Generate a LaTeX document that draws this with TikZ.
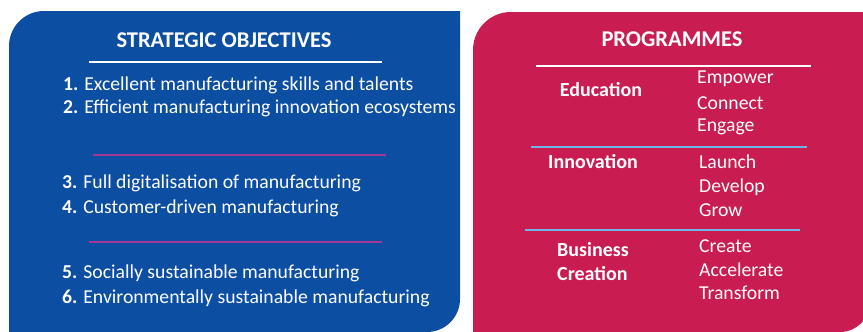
\documentclass[tikz,border=0pt]{standalone}
\usepackage{fontspec}
\setmainfont{Carlito}
\usepackage{tikz}
\usetikzlibrary{positioning}
\definecolor{objblue}{RGB}{12,78,162}
\definecolor{progred}{RGB}{201,28,80}
\definecolor{seppurple}{RGB}{165,55,150}
\definecolor{seplight}{RGB}{110,180,230}
\tikzstyle{title} = [text=white, font=\fontsize{22.5}{24}\selectfont\bfseries]
\tikzstyle{item} = [text=white, anchor=west, inner sep=0pt, font=\fontsize{19.7}{22}\selectfont]
\tikzstyle{prog} = [text=white, align=left, inner sep=0pt, font=\fontsize{20}{22}\selectfont\bfseries]
\tikzstyle{act} = [text=white, anchor=west, inner sep=0pt, font=\fontsize{19.7}{22}\selectfont]
\tikzstyle{rule} = [-, line width=1.1pt]

\begin{document}
\begin{tikzpicture}[x=1pt, y=-1pt]

    \useasboundingbox (0, 0) rectangle (863, 332);
    \clip (0, 0) rectangle (863, 332);

    % the two panels
    \fill [objblue] (9, 332) -- (9, 46) arc[start angle=180, end angle=270, radius=35] -- (460, 11) -- (460, 299) arc[start angle=0, end angle=90, radius=33] -- cycle;
    \fill [progred] (473, 332) -- (473, 50) arc[start angle=180, end angle=270, radius=38] -- (870, 12) -- (870, 302) arc[start angle=0, end angle=90, radius=30] -- cycle;

    % strategic objectives
    \node (objtitle) [title] at (224, 40) {STRATEGIC OBJECTIVES};
    \draw [rule, white] (89, 62) -- (382, 62);
    \node (obj1) [item] at (63, 85) {\textbf{1.} Excellent manufacturing skills and talents};
    \node (obj2) [item] at (63, 108) {\textbf{2.} Efficient manufacturing innovation ecosystems};
    \draw [rule, seppurple] (93, 155) -- (386, 155);
    \node (obj3) [item] at (62, 183) {\textbf{3.} Full digitalisation of manufacturing};
    \node (obj4) [item] at (62, 208) {\textbf{4.} Customer-driven manufacturing};
    \draw [rule, seppurple] (89, 242) -- (382, 242);
    \node (obj5) [item] at (62, 273) {\textbf{5.} Socially sustainable manufacturing};
    \node (obj6) [item] at (62, 298) {\textbf{6.} Environmentally sustainable manufacturing};

    % programmes
    \node (progtitle) [title] at (672, 39) {PROGRAMMES};
    \draw [rule, white] (536, 66) -- (811, 66);
    \node (edu) [prog] at (601, 90) {Education};
    \node (empower) [act] at (697, 79) {Empower};
    \node (connect) [act] at (697, 103) {Connect};
    \node (engage) [act] at (697, 127) {Engage};
    \draw [rule, seplight] (531, 147) -- (807, 147);
    \node (inno) [prog] at (593, 162) {Innovation};
    \node (launch) [act] at (699, 162) {Launch};
    \node (develop) [act] at (699, 187) {Develop};
    \node (grow) [act] at (699, 210) {Grow};
    \draw [rule, seplight] (525, 230) -- (800, 230);
    \node (busi) [prog, anchor=west] at (557, 250) {Business};
    \node (crea) [prog, anchor=west] at (557, 274) {Creation};
    \node (create) [act] at (699, 246) {Create};
    \node (accel) [act] at (699, 270) {Accelerate};
    \node (transf) [act] at (699, 293) {Transform};

\end{tikzpicture}
\end{document}
